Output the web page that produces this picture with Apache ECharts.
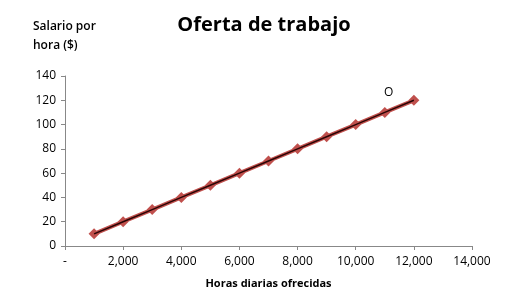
<!DOCTYPE html>
<html><head><meta charset="utf-8">
<script src="https://cdn.jsdelivr.net/npm/echarts@6/dist/echarts.min.js"></script>
<style>html,body{margin:0;padding:0;background:#fff}#c{width:528px;height:300px}</style>
</head><body><div id="c"></div>
<script>
var hours = [1000,2000,3000,4000,5000,6000,7000,8000,9000,10000,11000,12000];
var wages = [10,20,30,40,50,60,70,80,90,100,110,120];
var pointLabelIndex = 10;
var pointLabelText = 'O';
var font = '"Open Sans", "Noto Sans", sans-serif';

var pts = hours.map(function(h,i){
  var d = {value:[h, wages[i]]};
  if (i === pointLabelIndex) d.label = {show:true, formatter: pointLabelText, position:'top', distance:8, offset:[4,0], color:'#000', fontSize:12, fontFamily:font};
  return d;
});
var plain = hours.map(function(h,i){return [h, wages[i]];});

var chart = echarts.init(document.getElementById('c'));
chart.setOption({
  animation:false,
  backgroundColor:'#fff',
  title:{text:'Oferta de trabajo', left:'center', top:10, textStyle:{fontFamily:font, fontSize:20, fontWeight:'bold', color:'#000'}},
  graphic:[{type:'text', left:33, top:17, style:{text:'Salario por\nhora ($)', font:'600 12px '+font, fill:'#000', lineHeight:19}}],
  grid:{left:65, right:56, top:76, bottom:54},
  xAxis:{type:'value', min:0, max:14000, interval:2000,
    name:'Horas diarias ofrecidas', nameLocation:'middle', nameGap:32,
    nameTextStyle:{fontFamily:font, fontSize:11, fontWeight:'bold', color:'#000'},
    axisLine:{lineStyle:{color:'#888'}}, axisTick:{show:true, length:4, lineStyle:{color:'#888'}},
    splitLine:{show:false},
    axisLabel:{fontFamily:font, fontSize:12, color:'#000', margin:10,
      formatter:function(v){return v===0?'-':v.toLocaleString('en-US');}}},
  yAxis:{type:'value', min:0, max:140, interval:20,
    axisLine:{show:true, lineStyle:{color:'#888'}}, axisTick:{show:true, length:4, lineStyle:{color:'#888'}},
    splitLine:{show:false},
    axisLabel:{fontFamily:font, fontSize:12, color:'#000', margin:9}},
  series:[
    {type:'line', data:pts, symbol:'diamond', symbolSize:11, z:2,
     lineStyle:{color:'#c0504d', width:4}, itemStyle:{color:'#c0504d'}},
    {type:'line', data:plain, symbol:'none', z:3, silent:true,
     lineStyle:{color:'#2a0505', width:1.5}}
  ]
});
</script></body></html>
